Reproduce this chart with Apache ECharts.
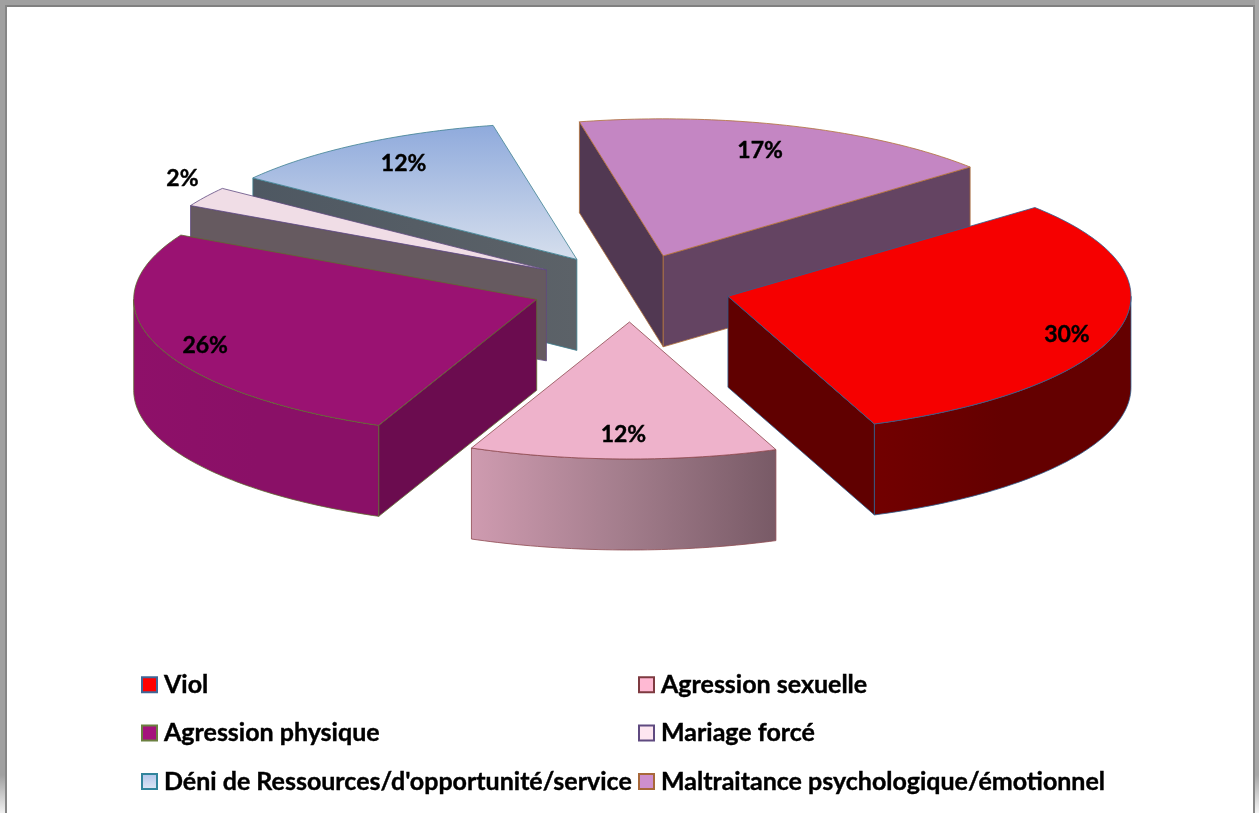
<!DOCTYPE html>
<html><head><meta charset="utf-8">
<style>html,body{margin:0;padding:0;background:#fff;overflow:hidden}#c{width:1259px;height:813px}</style>
<script src="https://cdn.jsdelivr.net/npm/echarts@6/dist/echarts.min.js"></script>
</head><body><div id="c"></div>
<script>
const categories = ['Viol','Agression sexuelle','Agression physique','Mariage forcé',"Déni de Ressources/d'opportunité/service",'Maltraitance psychologique/émotionnel'];
const values = [30.3,12.33,26.36,2.36,11.53,17.11];
const percentLabels = ['30%','12%','26%','2%','12%','17%'];

const linear = (stops, vertical) => ({type:'linear',x:0,y:0,x2:vertical?0:1,y2:vertical?1:0,
  colorStops:stops.map((c,i)=>({offset:i/(stops.length-1),color:c}))});

const styles = [
 {top:'#F60000',stroke:'#2F5F8F',arc:linear(['#720000','#640000','#640000']),start:'#640000',end:'#600000',legend:'#FF0000',legendBorder:'#3F6797',lr:.87,off:[-1,9]},
 {top:'#EEB2CB',stroke:'#8E4A50',arc:linear(['#CF9BB0','#A37D8C','#785A66']),start:'#785A66',end:'#785A66',legend:'#FFB9D3',legendBorder:'#7E3A40',lr:.81,off:[-1,2]},
 {top:'#9A1272',stroke:'#5F6B30',arc:linear(['#8E1069','#8A1067','#8A1067']),start:'#6B0C4F',end:'#6B0C4F',legend:'#A4127C',legendBorder:'#6B8040',lr:.87,off:[-1,7]},
 {top:'#F0DDE6',stroke:'#5F4A80',arc:'#665A60',start:'#665A60',end:'#665A60',legend:'#FDE6F0',legendBorder:'#5F4A80',lr:1.065,off:[-1,-13]},
 {top:linear(['#8FAADC','#D6DFED'],true),stroke:'#3E8090',arc:'#505A62',start:linear(['#4E5862','#5C6268']),end:'#5C6268',legend:linear(['#AFC4EA','#E0E8F5'],true),legendBorder:'#31859C',lr:.79,off:[-1,-5]},
 {top:'#C486C3',stroke:'#B0703A',arc:'#644462',start:'#513852',end:'#644462',legend:'#CE8FCD',legendBorder:'#A8683A',lr:.70,off:[6,-14]}
];

const CX=631, CY=288, RX=403, RY=137, DEPTH=91, EXPLODE=100, START=-40.4;
const drawOrder=[5,4,3,2,0,1];
const total=values.reduce((a,b)=>a+b,0);
const rad=d=>d*Math.PI/180;
const angles=[]; let acc=START;
values.forEach(v=>{const s=acc; acc+=v/total*360; angles.push([s,acc]);});

function sliceRender(params, api){
  const idx=api.value(0), st=styles[idx], [a0,a1]=angles[idx], mid=(a0+a1)/2;
  const ax=CX+EXPLODE*Math.cos(rad(mid)), ay=CY+EXPLODE*RY/RX*Math.sin(rad(mid));
  const pt=a=>[ax+RX*Math.cos(rad(a)), ay+RY*Math.sin(rad(a))];
  const arc=(p,q)=>{const o=[],n=Math.max(2,Math.ceil(Math.abs(q-p)));for(let i=0;i<=n;i++)o.push(pt(p+(q-p)*i/n));return o;};
  const down=p=>[p[0],p[1]+DEPTH];
  const poly=(points,fill,sw)=>({type:'polygon',shape:{points},style:{fill,stroke:st.stroke,lineWidth:sw||0.8}});
  const children=[];
  if(-Math.cos(rad(a0))>0){const e=pt(a0);children.push(poly([[ax,ay],e,down(e),[ax,ay+DEPTH]],st.start));}
  if(Math.cos(rad(a1))>0){const e=pt(a1);children.push(poly([[ax,ay],e,down(e),[ax,ay+DEPTH]],st.end));}
  for(const base of [-360,0,360]){
    const p=Math.max(a0,base), q=Math.min(a1,base+180);
    if(q>p){const t=arc(p,q);children.push(poly(t.concat(t.slice().reverse().map(down)),st.arc));}
  }
  children.push(poly([[ax,ay]].concat(arc(a0,a1)),st.top));
  children.push({type:'text',z2:20,style:{
    text:percentLabels[idx],
    x:ax+st.lr*RX*Math.cos(rad(mid))+st.off[0], y:ay+st.lr*RY*Math.sin(rad(mid))+st.off[1],
    textAlign:'center',textVerticalAlign:'middle',fill:'#000',stroke:'#000',lineWidth:0.4,
    font:'bold 23px Lato'}});
  return {type:'group',children};
}

const legendBase={orient:'vertical',icon:'rect',itemWidth:15,itemHeight:15,itemGap:23,selectedMode:false,
  textStyle:{fontFamily:'Lato',fontWeight:'bold',fontSize:25,color:'#000',textBorderColor:'#000',textBorderWidth:0.4,padding:[0,0,0,2]},padding:0};
const legendItem=i=>({name:categories[i],itemStyle:{color:styles[i].legend,borderColor:styles[i].legendBorder,borderWidth:2}});

const rect=(x,y,width,height,fill)=>({type:'rect',silent:true,shape:{x,y,width,height},style:{fill}});
const option={
  animation:false,
  backgroundColor:'#fff',
  legend:[
    Object.assign({},legendBase,{left:141,top:672,data:[0,2,4].map(legendItem)}),
    Object.assign({},legendBase,{left:638,top:672,data:[1,3,5].map(legendItem)})
  ],
  series:drawOrder.map(i=>({
    type:'custom',name:categories[i],coordinateSystem:'none',
    renderItem:sliceRender,silent:true,
    itemStyle:{color:styles[i].legend},
    data:[[i,values[i]]]
  })),
  graphic:[
    rect(0,0,1259,5,'#A0A0A0'),
    rect(5,5,1248,2,'#808080'),
    rect(0,0,5,775,'#A0A0A0'),
    rect(0,775,5,38,linear(['#A0A0A0','#F0F0F0'],true)),
    rect(5,5,2,808,'#868686'),
    rect(1253,5,2,808,'#888888'),
    rect(1255,0,4,775,'#A8A8A8'),
    rect(1255,775,4,38,linear(['#A8A8A8','#F4F4F4'],true))
  ]
};
echarts.init(document.getElementById('c'),null,{renderer:'canvas'}).setOption(option);
</script></body></html>
